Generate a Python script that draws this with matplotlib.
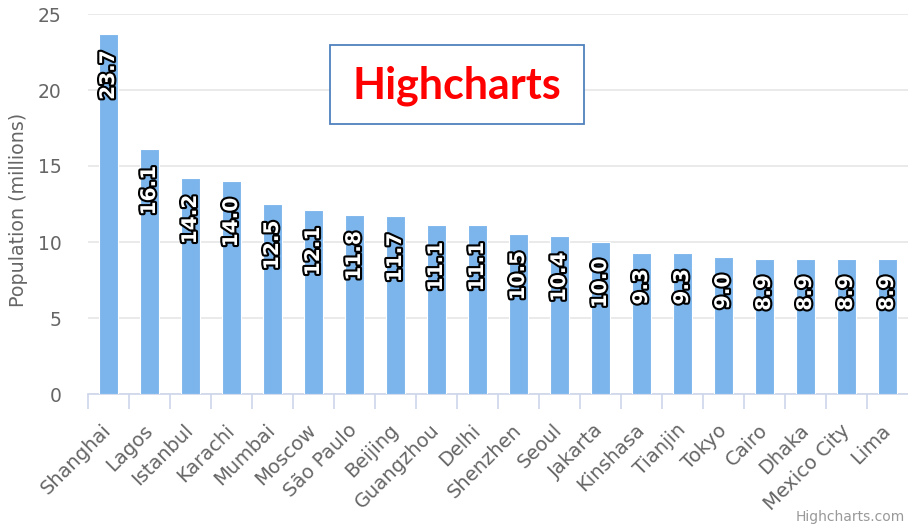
import matplotlib.pyplot as plt
import matplotlib.patheffects as pe
from matplotlib.patches import Rectangle
import numpy as np

cities = ["Shanghai", "Lagos", "Istanbul", "Karachi", "Mumbai", "Moscow",
          "São Paulo", "Beijing", "Guangzhou", "Delhi", "Shenzhen", "Seoul",
          "Jakarta", "Kinshasa", "Tianjin", "Tokyo", "Cairo", "Dhaka",
          "Mexico City", "Lima"]
population = [23.7, 16.1, 14.2, 14.0, 12.5, 12.1, 11.8, 11.7, 11.1, 11.1,
              10.5, 10.4, 10.0, 9.3, 9.3, 9.0, 8.9, 8.9, 8.9, 8.9]
y_ticks = [0, 5, 10, 15, 20, 25]

GREY = "#666666"
BAR = "#7cb5ec"
AXIS = "#ccd6eb"

fig = plt.figure(figsize=(9.08, 5.30), dpi=100)
ax = fig.add_axes([88 / 908, 1 - 394 / 530, 1 - 88 / 908, 380 / 530])

x = np.arange(len(cities))
ax.bar(x, population, width=0.46, color=BAR, edgecolor="white", linewidth=0.8, zorder=3)

for xi, v in zip(x, population):
    ax.annotate(f"{v:.1f}", (xi, v), xytext=(0, -12), textcoords="offset points",
                rotation=90, rotation_mode="anchor", ha="right", va="center",
                color="white", fontsize=14.5, fontweight="bold", zorder=4,
                path_effects=[pe.withStroke(linewidth=3, foreground="black")])

ax.set_xlim(-0.5, len(cities) - 0.5)
ax.set_ylim(0, 25)
ax.set_yticks(y_ticks)
ax.yaxis.grid(True, color="#e6e6e6", linewidth=1.2, zorder=0)
ax.tick_params(axis="y", length=0, pad=19, labelsize=13.5, labelcolor=GREY)

ax.set_xticks(x)
ax.set_xticklabels(cities, rotation=45, ha="right", va="center",
                   rotation_mode="anchor", fontsize=14, color=GREY)
ax.tick_params(axis="x", length=0, pad=24)
ax.set_xticks(np.arange(-0.5, len(cities) - 0.5, 1), minor=True)
ax.tick_params(axis="x", which="minor", length=11, width=1.2, color=AXIS, direction="out")

for s in ["top", "right", "left"]:
    ax.spines[s].set_visible(False)
ax.spines["bottom"].set_color(AXIS)
ax.spines["bottom"].set_linewidth(1.2)

ax.set_ylabel("Population (millions)", fontsize=13.7, color=GREY)
ax.yaxis.set_label_coords(-0.073, 0.485)

# title box
fig.patches.append(Rectangle((330 / 908, 1 - 124 / 530), 254 / 908, 79 / 530,
                             transform=fig.transFigure, facecolor="white",
                             edgecolor="#4f81bd", linewidth=1.3, zorder=5))
fig.text(457 / 908, 1 - 86 / 530, "Highcharts", color="#ff0000", fontsize=31,
         fontweight="bold", family="Lato", ha="center", va="center", zorder=6)

fig.text(905 / 908, 1 - 517 / 530, "Highcharts.com", color="#999999",
         fontsize=10, ha="right", va="center")

fig.savefig("out.png", dpi=100)
